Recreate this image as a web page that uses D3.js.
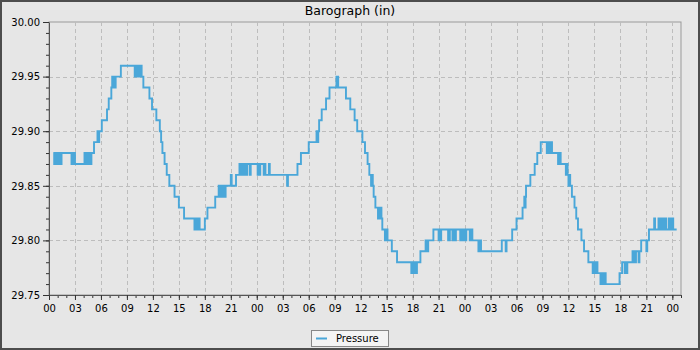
<!DOCTYPE html>
<html>
<head>
<meta charset="utf-8">
<script src="https://cdn.jsdelivr.net/npm/d3@7"></script>
<style>
  body { margin: 0; background: #e6e6e6; }
  svg { display: block; font-family: "DejaVu Sans", sans-serif; }
</style>
</head>
<body>
<svg id="chart" width="700" height="350"></svg>
<script>
// readings: [hours since start, pressure in inHg]
const readings = [
  [0.5, 29.88], [0.6, 29.87], [0.7, 29.88], [0.8, 29.87], [0.9, 29.88],
  [1.1, 29.87], [1.2, 29.88], [1.3, 29.87], [1.45, 29.88],
  [2.6, 29.87], [2.7, 29.88], [2.8, 29.87], [2.9, 29.88], [3.0, 29.87],
  [4.1, 29.88], [4.2, 29.87], [4.3, 29.88], [4.4, 29.87], [4.5, 29.88], [4.6, 29.87], [4.7, 29.88], [4.8, 29.87], [4.9, 29.88],
  [5.2, 29.89], [5.6, 29.90], [5.7, 29.89], [5.8, 29.90],
  [6.1, 29.91], [6.7, 29.92], [6.9, 29.93],
  [7.2, 29.94], [7.3, 29.95], [7.4, 29.94], [7.5, 29.95], [7.6, 29.94], [7.7, 29.95],
  [8.3, 29.96],
  [9.9, 29.95], [10.0, 29.96], [10.1, 29.95], [10.2, 29.96], [10.3, 29.95], [10.4, 29.96], [10.5, 29.95], [10.6, 29.96], [10.7, 29.95],
  [10.9, 29.94], [11.6, 29.93], [11.9, 29.92], [12.4, 29.91], [12.8, 29.90], [12.95, 29.89],
  [13.1, 29.88], [13.35, 29.87], [13.6, 29.86], [13.9, 29.85], [14.5, 29.84], [15.0, 29.83], [15.6, 29.82],
  [16.8, 29.81], [16.9, 29.82], [17.0, 29.81], [17.1, 29.82], [17.2, 29.81], [17.3, 29.82], [17.4, 29.81],
  [18.0, 29.82], [18.3, 29.83], [19.2, 29.84],
  [19.6, 29.85], [19.7, 29.84], [19.8, 29.85], [19.9, 29.84], [20.0, 29.85], [20.1, 29.84], [20.2, 29.85], [20.3, 29.84], [20.4, 29.85],
  [21.0, 29.86], [21.1, 29.85], [21.6, 29.86],
  [22.0, 29.87], [22.1, 29.86],
  [22.3, 29.87], [22.4, 29.86], [22.5, 29.87], [22.6, 29.86], [22.7, 29.87], [22.8, 29.86], [22.9, 29.87],
  [23.2, 29.86], [23.3, 29.87],
  [24.1, 29.86], [24.2, 29.87], [24.3, 29.86], [24.4, 29.87],
  [24.8, 29.86], [24.9, 29.87], [25.0, 29.86],
  [25.4, 29.87], [25.5, 29.86],
  [27.5, 29.85], [27.6, 29.86],
  [28.7, 29.87], [29.1, 29.88], [30.0, 29.89],
  [30.9, 29.90], [31.0, 29.89], [31.1, 29.90],
  [31.2, 29.91], [31.5, 29.92], [32.0, 29.93], [32.4, 29.94],
  [33.2, 29.95], [33.4, 29.94],
  [34.3, 29.93], [34.8, 29.92], [35.3, 29.91], [35.6, 29.90],
  [36.2, 29.89], [36.5, 29.88], [36.8, 29.87], [37.0, 29.86],
  [37.2, 29.85], [37.3, 29.86], [37.4, 29.85],
  [37.5, 29.84], [37.7, 29.83],
  [38.0, 29.82], [38.1, 29.83], [38.2, 29.82], [38.3, 29.83],
  [38.4, 29.82], [38.5, 29.81],
  [38.8, 29.80], [38.9, 29.81], [39.0, 29.80], [39.05, 29.81],
  [39.1, 29.80], [39.6, 29.79], [40.2, 29.78],
  [41.85, 29.77], [42.0, 29.78], [42.1, 29.77], [42.2, 29.78], [42.3, 29.77], [42.5, 29.78],
  [42.9, 29.79], [43.5, 29.80], [43.6, 29.79], [43.8, 29.80],
  [44.4, 29.81],
  [45.0, 29.80], [45.1, 29.81], [45.2, 29.80], [45.3, 29.81],
  [46.1, 29.80], [46.3, 29.81], [46.6, 29.80], [46.7, 29.81],
  [46.9, 29.80], [47.0, 29.81],
  [47.5, 29.80], [47.6, 29.81], [47.7, 29.80], [47.8, 29.81], [47.9, 29.80], [48.0, 29.81], [48.1, 29.80], [48.2, 29.81],
  [48.6, 29.80], [48.7, 29.81],
  [48.9, 29.80], [49.6, 29.79], [49.7, 29.80],
  [49.9, 29.79],
  [52.3, 29.80], [52.75, 29.79], [52.85, 29.80],
  [53.5, 29.81], [54.0, 29.82], [54.7, 29.83], [54.9, 29.84], [55.0, 29.83], [55.05, 29.84],
  [55.1, 29.85], [55.6, 29.86], [56.1, 29.87], [56.4, 29.88], [56.8, 29.89],
  [57.5, 29.88], [57.6, 29.89], [57.7, 29.88], [57.8, 29.89], [57.9, 29.88], [58.0, 29.89], [58.1, 29.88],
  [58.8, 29.87], [58.9, 29.88], [59.0, 29.87], [59.05, 29.88], [59.1, 29.87],
  [59.7, 29.86], [59.8, 29.87], [59.9, 29.86],
  [60.0, 29.85], [60.1, 29.86], [60.2, 29.85],
  [60.4, 29.84], [60.7, 29.83], [60.9, 29.82], [61.1, 29.81], [61.5, 29.80], [61.8, 29.79],
  [62.3, 29.78], [62.8, 29.77], [62.9, 29.78], [63.0, 29.77], [63.1, 29.78], [63.2, 29.77], [63.3, 29.78],
  [63.35, 29.77],
  [63.7, 29.76], [63.8, 29.77], [63.9, 29.76], [64.0, 29.77], [64.1, 29.76], [64.2, 29.77], [64.3, 29.76],
  [65.9, 29.77], [66.2, 29.78], [66.5, 29.77], [66.6, 29.78], [66.7, 29.77], [66.8, 29.78],
  [67.4, 29.79], [67.5, 29.78], [67.6, 29.79], [67.7, 29.78], [67.8, 29.79],
  [68.1, 29.78], [68.2, 29.79],
  [68.4, 29.80], [69.0, 29.79], [69.1, 29.80],
  [69.3, 29.81], [69.9, 29.82], [70.0, 29.81],
  [70.4, 29.82], [70.5, 29.81], [70.6, 29.82], [70.7, 29.81], [70.8, 29.82], [70.9, 29.81], [71.0, 29.82], [71.1, 29.81], [71.2, 29.82],
  [71.3, 29.81],
  [71.6, 29.82], [71.7, 29.81], [71.8, 29.82], [71.9, 29.81], [72.0, 29.82],
  [72.1, 29.81], [72.5, 29.81]
];

const hourTicks = d3.range(0, 73, 3);       // major ticks, every 3 hours
const hourMinor = d3.range(0, 74, 1);
const pressureTicks = [29.75, 29.80, 29.85, 29.90, 29.95, 30.00];
const pressureMinor = d3.range(29.75, 30.001, 0.01);

const chartTitle = "Barograph (in)";
const seriesName = "Pressure";

const svg = d3.select("#chart");
const W = 700, H = 350;
const margin = { top: 22, right: 19, bottom: 55, left: 49 };
const innerW = W - margin.left - margin.right;
const innerH = H - margin.top - margin.bottom;

// background + outer frame
svg.append("rect")
  .attr("x", 1).attr("y", 1).attr("width", W - 2).attr("height", H - 2)
  .attr("fill", "#e6e6e6").attr("stroke", "#4d4d4d").attr("stroke-width", 2);

svg.append("text")
  .attr("x", W / 2).attr("y", 15)
  .attr("text-anchor", "middle")
  .attr("font-size", 12.5).attr("fill", "#000")
  .text(chartTitle);

const x = d3.scaleLinear().domain([0, 73]).range([0, innerW]);
const y = d3.scaleLinear().domain([29.75, 30.00]).range([innerH, 0]);

const g = svg.append("g").attr("transform", `translate(${margin.left},${margin.top})`);

// plot frame
g.append("rect")
  .attr("width", innerW).attr("height", innerH)
  .attr("fill", "#e6e6e6").attr("stroke", "#999").attr("stroke-width", 1);

// grid
g.append("g")
  .selectAll("line")
  .data(hourTicks.filter(d => d > 0))
  .join("line")
  .attr("x1", d => Math.round(x(d)) + 0.5).attr("x2", d => Math.round(x(d)) + 0.5)
  .attr("y1", 0).attr("y2", innerH)
  .attr("stroke", "#bdbdbd").attr("stroke-dasharray", "4,3");

g.append("g")
  .selectAll("line")
  .data(pressureTicks.filter(d => d > 29.75 && d < 30))
  .join("line")
  .attr("y1", d => Math.round(y(d)) + 0.5).attr("y2", d => Math.round(y(d)) + 0.5)
  .attr("x1", 0).attr("x2", innerW)
  .attr("stroke", "#bdbdbd").attr("stroke-dasharray", "4,3");

// minor ticks
g.append("g")
  .attr("transform", `translate(0,${innerH})`)
  .call(d3.axisBottom(x).tickValues(hourMinor).tickSize(3).tickFormat(""))
  .call(a => a.select(".domain").remove())
  .selectAll("line").attr("stroke", "#333");

g.append("g")
  .call(d3.axisLeft(y).tickValues(pressureMinor).tickSize(3).tickFormat(""))
  .call(a => a.select(".domain").remove())
  .selectAll("line").attr("stroke", "#333");

// major axes
const xAxis = g.append("g")
  .attr("transform", `translate(0,${innerH})`)
  .call(d3.axisBottom(x).tickValues(hourTicks).tickSize(5).tickSizeOuter(0)
    .tickFormat(d => d3.format("02d")(d % 24)));

const yAxis = g.append("g")
  .call(d3.axisLeft(y).tickValues(pressureTicks).tickSize(6).tickSizeOuter(0)
    .tickFormat(d3.format(".2f")));

[xAxis, yAxis].forEach(a => {
  a.select(".domain").attr("stroke", "#555");
  a.selectAll("line").attr("stroke", "#333");
  a.selectAll("text").attr("font-size", 10).attr("fill", "#000")
    .attr("font-family", "DejaVu Sans, sans-serif");
});
xAxis.selectAll("text").attr("dy", "0.9em");

// pressure trace
const line = d3.line()
  .x(d => x(d[0]))
  .y(d => y(d[1]))
  .curve(d3.curveStepAfter);

g.append("path")
  .datum(readings)
  .attr("fill", "none")
  .attr("stroke", "#4aa7d9")
  .attr("stroke-width", 1.9)
  .attr("d", line);

// legend
const legend = svg.append("g").attr("transform", "translate(311,330)");
legend.append("rect")
  .attr("x", 0.5).attr("y", 0.5).attr("width", 77).attr("height", 16)
  .attr("fill", "#f4f4f4").attr("stroke", "#888");
legend.append("line")
  .attr("x1", 5).attr("x2", 16).attr("y1", 8.5).attr("y2", 8.5)
  .attr("stroke", "#4aa7d9").attr("stroke-width", 2);
legend.append("text")
  .attr("x", 25).attr("y", 12)
  .attr("font-size", 10).attr("fill", "#000")
  .text(seriesName);
</script>
</body>
</html>
